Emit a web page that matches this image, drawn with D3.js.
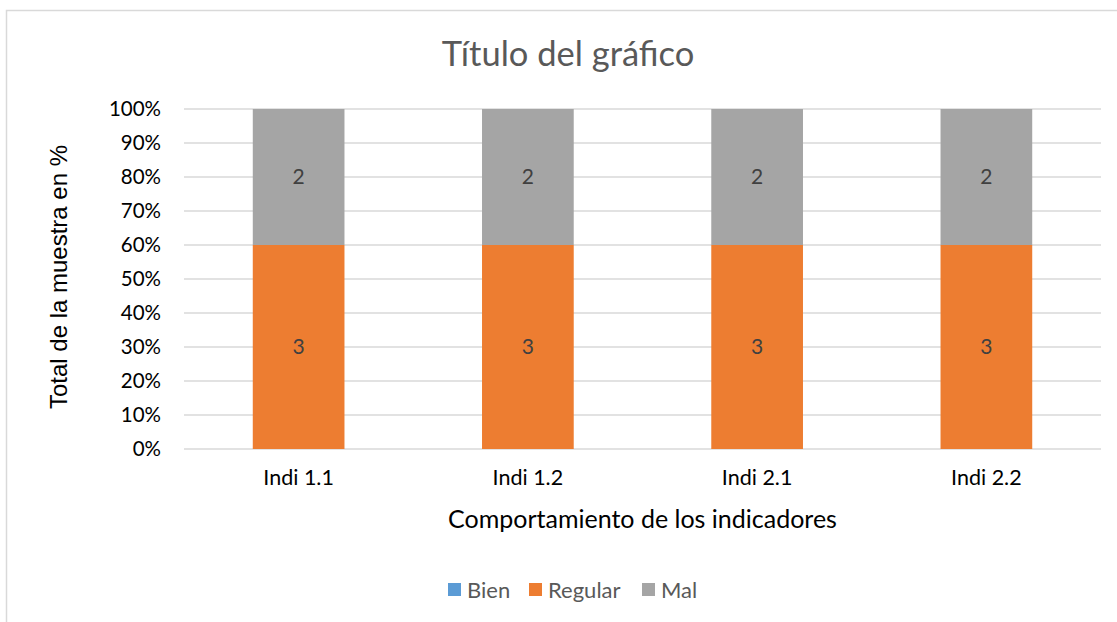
<!DOCTYPE html>
<html>
<head>
<meta charset="utf-8">
<script src="https://cdn.jsdelivr.net/npm/d3@7"></script>
<style>
  body { margin: 0; background: #fff; }
  text { font-family: Lato, "Open Sans", sans-serif; }
</style>
</head>
<body>
<div id="chart-area"></div>
<script>
// data
let categories = ["Indi 1.1", "Indi 1.2", "Indi 2.1", "Indi 2.2"]
let seriesNames = ["Bien", "Regular", "Mal"]
let bien = [0, 0, 0, 0]
let regular = [3, 3, 3, 3]
let mal = [2, 2, 2, 2]
let colors = ["#5b9bd5", "#ed7d31", "#a5a5a5"]
let yTicks = [0, 0.1, 0.2, 0.3, 0.4, 0.5, 0.6, 0.7, 0.8, 0.9, 1]

let rows = categories.map((c, i) => ({ cat: c, Bien: bien[i], Regular: regular[i], Mal: mal[i] }))

let width = 1117, height = 622
let svg = d3.select("#chart-area").append("svg")
            .attr("width", width)
            .attr("height", height)

// chart border
svg.append("rect")
    .attr("x", 6.5).attr("y", 10.5)
    .attr("width", 1130).attr("height", 640)
    .attr("fill", "none")
    .attr("stroke", "#d9d9d9")
    .attr("stroke-width", 1.5)

let pLeft = 184, pRight = 1101, pTop = 109, pBottom = 449

let x = d3.scaleBand().domain(categories).range([pLeft, pRight]).paddingInner(0.6).paddingOuter(0.3)
let y = d3.scaleLinear().domain([0, 1]).range([pBottom, pTop])

// gridlines
svg.selectAll(".grid")
    .data(yTicks)
    .enter()
    .append("line")
    .attr("x1", pLeft).attr("x2", pRight)
    .attr("y1", d => y(d)).attr("y2", d => y(d))
    .attr("stroke", "#d9d9d9")
    .attr("stroke-width", 1.5)

// stacked percent
let stack = d3.stack().keys(seriesNames).offset(d3.stackOffsetExpand)
let layers = stack(rows)

let groups = svg.selectAll(".layer")
    .data(layers)
    .enter()
    .append("g")
    .attr("fill", (d, i) => colors[i])

groups.selectAll("rect")
    .data(d => d)
    .enter()
    .append("rect")
    .attr("x", d => x(d.data.cat))
    .attr("width", x.bandwidth())
    .attr("y", d => y(d[1]))
    .attr("height", d => y(d[0]) - y(d[1]))

// data labels
groups.each(function(layer) {
  d3.select(this).selectAll("text")
    .data(layer.filter(d => d.data[layer.key] > 0))
    .enter()
    .append("text")
    .attr("x", d => x(d.data.cat) + x.bandwidth() / 2)
    .attr("y", d => (y(d[0]) + y(d[1])) / 2)
    .attr("dy", "0.35em")
    .attr("text-anchor", "middle")
    .attr("fill", "#404040")
    .attr("font-size", 21)
    .text(d => d.data[layer.key])
})

// y axis labels
let yAxis = d3.axisLeft(y).tickValues(yTicks).tickFormat(d3.format(".0%")).tickSize(0).tickPadding(23)
let yg = svg.append("g").attr("transform", "translate(" + pLeft + ",0)").call(yAxis)
yg.select(".domain").remove()
yg.selectAll("text").attr("font-size", 20.5).attr("fill", "#000").style("font-family", "Lato, 'Open Sans', sans-serif")

// x axis labels
let xAxis = d3.axisBottom(x).tickSize(0).tickPadding(21)
let xg = svg.append("g").attr("transform", "translate(0," + pBottom + ")").call(xAxis)
xg.select(".domain").remove()
xg.selectAll("text").attr("font-size", 21.5).attr("fill", "#000").style("font-family", "Lato, 'Open Sans', sans-serif")

// title
svg.append("text")
    .attr("x", 568).attr("y", 66)
    .attr("text-anchor", "middle")
    .attr("font-size", 34.5)
    .attr("fill", "#595959")
    .text("Título del gráfico")

// axis titles
svg.append("text")
    .attr("x", (pLeft + pRight) / 2).attr("y", 528)
    .attr("text-anchor", "middle")
    .attr("font-size", 25)
    .attr("fill", "#000")
    .text("Comportamiento de los indicadores")

svg.append("text")
    .attr("transform", "translate(67," + 277 + ") rotate(-90)")
    .attr("text-anchor", "middle")
    .attr("font-size", 24)
    .attr("fill", "#000")
    .style("font-family", "'Liberation Sans', Arial, sans-serif")
    .text("Total de la muestra en %")

// legend
let legendX = [448, 529, 642]
let legend = svg.selectAll(".legend")
    .data(seriesNames)
    .enter()
    .append("g")
    .attr("transform", (d, i) => "translate(" + legendX[i] + ",583)")
legend.append("rect")
    .attr("width", 13).attr("height", 13)
    .attr("fill", (d, i) => colors[i])
legend.append("text")
    .attr("x", 19).attr("y", 7)
    .attr("dy", "0.35em")
    .attr("font-size", 22)
    .attr("fill", "#595959")
    .text(d => d)
</script>
</body>
</html>
